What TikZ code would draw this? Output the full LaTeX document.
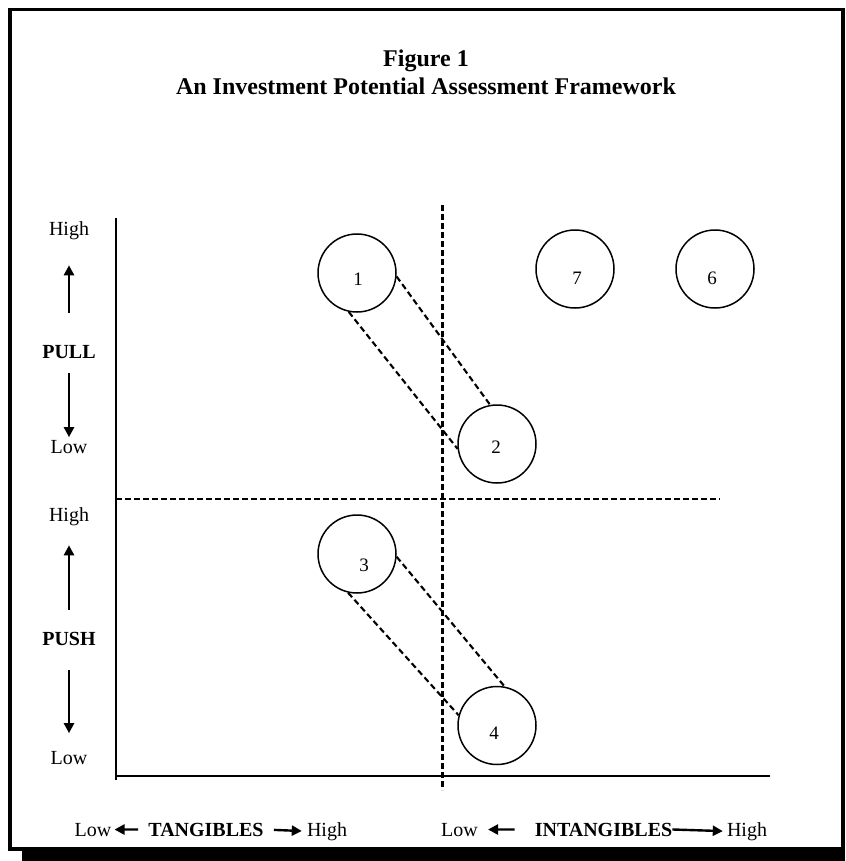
\documentclass[tikz,border=0pt]{standalone}
\usepackage{fontspec}
\setmainfont{Liberation Serif}
\usetikzlibrary{arrows.meta,positioning,calc}

\begin{document}
\begin{tikzpicture}[x=1pt,y=-1pt,
        txt/.style={font=\fontsize{20}{24}\selectfont, inner sep=0pt},
        bubble/.style={draw, circle, line width=1.5pt, minimum size=78pt, inner sep=0pt},
        guide/.style={line width=2.4pt, dash pattern=on 6pt off 3pt},
        link/.style={line width=2.1pt, dash pattern=on 6pt off 3.5pt},
        axis/.style={line width=1.5pt},
        bigarrow/.style={line width=2.4pt, -{Triangle[width=10pt,length=10pt]}}]
    \useasboundingbox (0,0) rectangle (845,861);

    % Frame with shadow
    \fill (22,850) rectangle (845,861);
    \draw[line width=3.5pt] (10,9.5) rectangle (843,849);

    % Title
    \node[txt, font=\fontsize{24}{28}\selectfont\bfseries, align=center] (title) at (426,72)
        {Figure 1\\An Investment Potential Assessment Framework};

    % Axes and quadrant guides
    \coordinate (origin) at (116,776);
    \coordinate (ytop) at (116,218);
    \coordinate (ybot) at (116,780);
    \coordinate (xend) at (770,776);
    \draw[axis] (ytop) -- (ybot);
    \draw[axis] (origin) -- (xend);
    \coordinate (vtop) at (442.5,205);
    \coordinate (vbot) at (442.5,790);
    \coordinate (hleft) at (116,499);
    \coordinate (hright) at (720,499);
    \draw[guide] (vtop) -- (vbot);
    \draw[guide] (hleft) -- (hright);

    % Vertical scales: PULL and PUSH
    \foreach \w/\hy/\my/\ly/\ua/\ub/\da/\db in {
            PULL/231/352/447/32/25/14/3,
            PUSH/517/639/758/22/19/24/18} {
        \node[txt] (high\w) at (69,\hy) {High};
        \node[txt, font=\fontsize{20}{24}\selectfont\bfseries] (\w) at (69,\my) {\w};
        \node[txt] (low\w) at (69,\ly) {Low};
        \draw[bigarrow, shorten <=\ua pt, shorten >=\ub pt] (\w.north) -- (high\w.south);
        \draw[bigarrow, shorten <=\da pt, shorten >=\db pt] (\w.south) -- (low\w.north);
    }

    % Investment bubbles
    \foreach \n/\x/\y/\dx/\dy in {
            1/357/273/1/6,
            2/497/444/-1/3,
            7/575/269/2/9,
            6/715/269/-3/9,
            3/357/554/7/11,
            4/497/725.5/-3/8} {
        \node[bubble] (c\n) at (\x,\y) {};
        \node[txt, font=\fontsize{19}{23}\selectfont] (n\n) at ([shift={(\dx,\dy)}]c\n) {\n};
    }
    \draw[link] (c1.-5) -- (c2.100);
    \draw[link] (c1.-102) -- (c2.187);
    \draw[link] (c3.-4) -- (c4.79);
    \draw[link] (c3.-103) -- (c4.165);

    % Horizontal scales
    \node[txt, anchor=base] (lowT) at (93,836) {Low};
    \node[txt, anchor=base, font=\fontsize{20}{24}\selectfont\bfseries] (tang) at (206,836) {TANGIBLES};
    \node[txt, anchor=base] (highT) at (327,836) {High};
    \draw[bigarrow, shorten <=10pt, shorten >=3pt] (tang.west) -- (lowT.east);
    \draw[bigarrow, shorten <=10pt, shorten >=5pt] (tang.east) -- (highT.west);

    \node[txt, anchor=base] (lowI) at (459.5,836) {Low};
    \node[txt, anchor=base, font=\fontsize{20}{24}\selectfont\bfseries] (intang) at (603.5,836) {INTANGIBLES};
    \draw[bigarrow, shorten <=20pt, shorten >=10pt] (intang.west) -- (lowI.east);
    \node[txt, anchor=base] (highI) at (747,836) {High};
    \draw[bigarrow, shorten <=0pt, shorten >=4pt] (intang.east) -- (highI.west);
\end{tikzpicture}
\end{document}
